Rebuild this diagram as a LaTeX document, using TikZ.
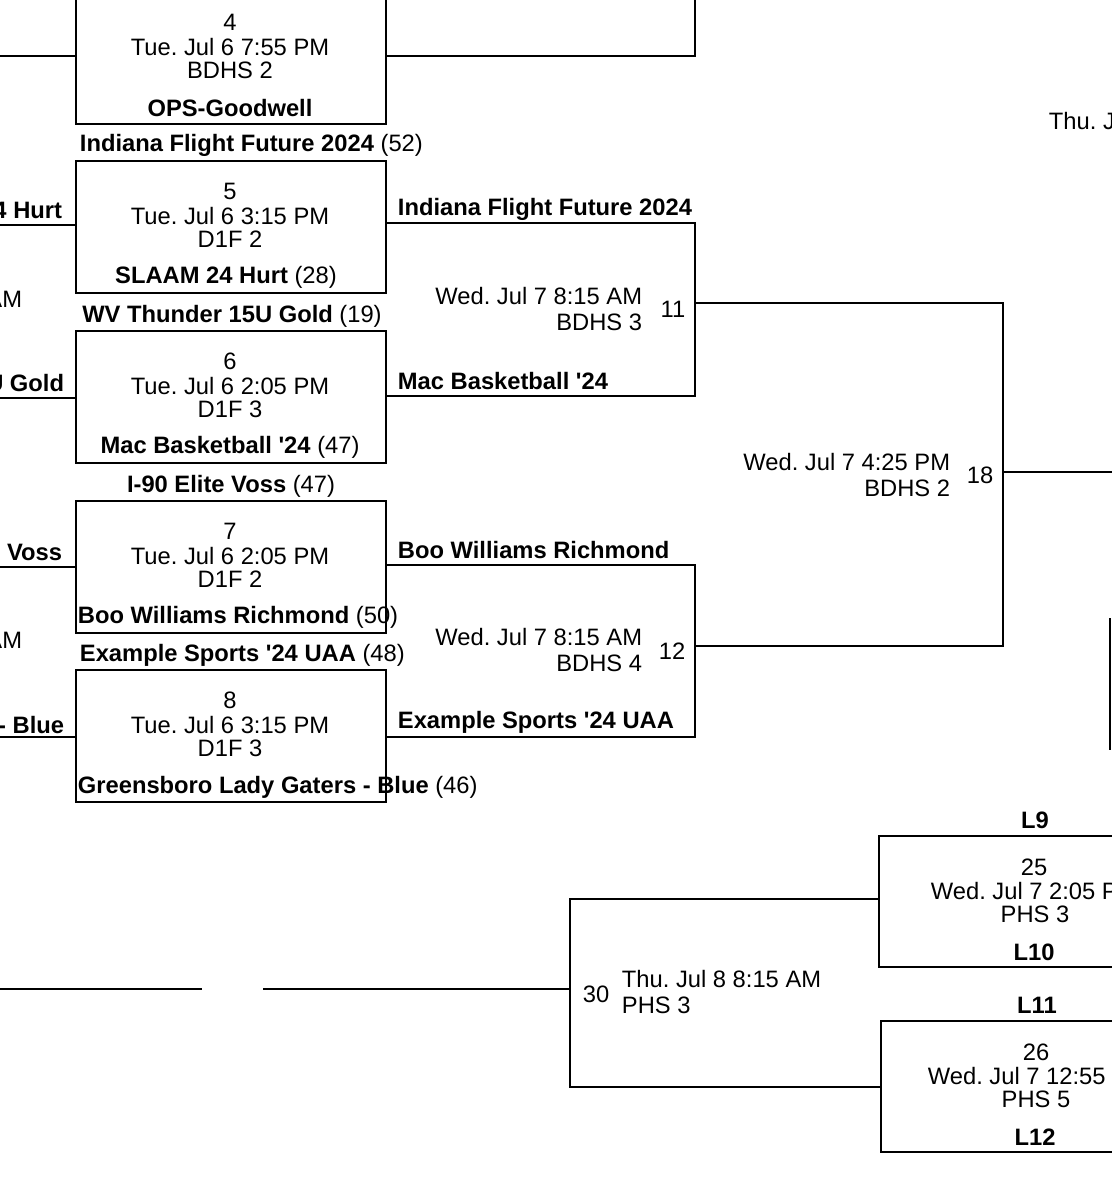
\documentclass[tikz,border=0pt]{standalone}
\usepackage{fontspec}
\setmainfont{Liberation Sans}
\newfontfamily\apfont{Liberation Sans}
\newcommand\ap{{\apfont\char39\relax}}
\frenchspacing
\begin{document}
\begin{tikzpicture}[x=0.75pt,y=-0.75pt,line width=1.4pt,
  t/.style={inner sep=0pt,font=\fontsize{17.8}{20}\selectfont},
  b/.style={t,font=\fontsize{17.8}{20}\selectfont\bfseries},
  game/.style={draw,line width=1.4pt}]
\useasboundingbox (0,0) rectangle (1112,1200);
\clip (0,0) rectangle (1112,1200);
\fill[white] (0,0) rectangle (1112,1200);
% game boxes
\foreach \n/\top/\num/\tm/\ct in {g4/-9/4/Tue. Jul 6 7:55 PM/BDHS 2, g5/160/5/Tue. Jul 6 3:15 PM/D1F 2, g6/330/6/Tue. Jul 6 2:05 PM/D1F 3, g7/500/7/Tue. Jul 6 2:05 PM/D1F 2, g8/669/8/Tue. Jul 6 3:15 PM/D1F 3}{
  \node[game,minimum width=310*0.75pt,minimum height=132*0.75pt,inner sep=0pt,anchor=north west] (\n) at (75,\top) {};
  \node[t] (\n num) at (230,\top+31) {\num};
  \node[t] (\n tm) at (230,\top+56) {\tm};
  \node[t] (\n ct) at (230,\top+79) {\ct};
}
\node[b] (g4b) at (230,108) {OPS-Goodwell};
\node[b,anchor=west] (g5a) at (79,145) {Indiana Flight Future 2024 \normalfont(52)};
\node[b] (g5b) at (226,277) {SLAAM 24 Hurt \normalfont(28)};
\node[b] (g6a) at (232,316) {WV Thunder 15U Gold \normalfont(19)};
\node[b] (g6b) at (230,447) {Mac Basketball \ap24 \normalfont(47)};
\node[b] (g7a) at (231,486) {I-90 Elite Voss \normalfont(47)};
\node[b,anchor=west] (g7b) at (77,617) {Boo Williams Richmond \normalfont(50)};
\node[b,anchor=west] (g8a) at (79,655) {Example Sports \ap24 UAA \normalfont(48)};
\node[b,anchor=west] (g8b) at (77,787) {Greensboro Lady Gaters - Blue \normalfont(46)};
% left stubs
\coordinate (L4) at (0,56); \coordinate (L5) at (0,225); \coordinate (L6) at (0,398);
\coordinate (L7) at (0,567); \coordinate (L8) at (0,737);
\draw (L4) -- (L4 -| g4.west); \draw (L5) -- (L5 -| g5.west); \draw (L6) -- (L6 -| g6.west);
\draw (L7) -- (L7 -| g7.west); \draw (L8) -- (L8 -| g8.west);
\node[b,anchor=east] (s5) at (63,210) {4 Hurt};
\node[b,anchor=east] (s6) at (65,383) {U Gold};
\node[b,anchor=east] (s7) at (63,552) {e Voss};
\node[b,anchor=east] (s8) at (65,725) {- Blue};
\node[t,anchor=east] (am1) at (23,299) {AM};
\node[t,anchor=east] (am2) at (23,640) {AM};
% round 2
\coordinate (c4) at (695,56); \coordinate (c4t) at (695,0);
\draw (g4.east |- c4) -- (c4) -- (c4t);
\coordinate (a5) at (695,223); \coordinate (a6) at (695,396);
\draw (g5.east |- a5) -- (a5) -- (a6) -- (g6.east |- a6);
\coordinate (a7) at (695,565); \coordinate (a8) at (695,737);
\draw (g7.east |- a7) -- (a7) -- (a8) -- (g8.east |- a8);
\node[b,anchor=west] (w5) at (397,209) {Indiana Flight Future 2024};
\node[b,anchor=west] (w6) at (397,381) {Mac Basketball \ap24};
\node[b,anchor=west] (w7) at (397,550) {Boo Williams Richmond};
\node[b,anchor=west] (w8) at (397,722) {Example Sports \ap24 UAA};
\node[t,anchor=east,align=right] (i11) at (643,309) {Wed. Jul 7 8:15 AM\\BDHS 3};
\node[t] (n11) at (673,309) {11};
\node[t,anchor=east,align=right] (i12) at (643,650) {Wed. Jul 7 8:15 AM\\BDHS 4};
\node[t] (n12) at (672,651) {12};
% round 3
\coordinate (m11) at (695,303); \coordinate (m12) at (695,646);
\coordinate (b11) at (1003,303); \coordinate (b12) at (1003,646);
\draw (m11) -- (b11) -- (b12) -- (m12);
\coordinate (m18) at (1003,472); \coordinate (o18) at (1112,472);
\draw (m18) -- (o18);
\node[t,anchor=east,align=right] (i18) at (951,475) {Wed. Jul 7 4:25 PM\\BDHS 2};
\node[t] (n18) at (980,475) {18};
\node[t,anchor=west] (thu) at (1048,121) {Thu. Jul 8 8:15 AM};
\coordinate (r1) at (1110,618); \coordinate (r2) at (1110,750);
\draw (r1) -- (r2);
% consolation
\coordinate (z1) at (0,989); \coordinate (z2) at (202,989);
\draw (z1) -- (z2);
\coordinate (z3) at (263,989); \coordinate (z4) at (570,989);
\draw (z3) -- (z4);
\node[game,minimum width=300*0.75pt,minimum height=131*0.75pt,inner sep=0pt,anchor=north west] (g25) at (878,835) {};
\node[game,minimum width=300*0.75pt,minimum height=131*0.75pt,inner sep=0pt,anchor=north west] (g26) at (880,1020) {};
\coordinate (k25) at (570,899); \coordinate (k26) at (570,1087);
\draw (g25.west |- k25) -- (k25) -- (k26) -- (g26.west |- k26);
\node[t] (n30) at (596,994) {30};
\node[t,anchor=west,align=left] (i30) at (621,992) {Thu. Jul 8 8:15 AM\\PHS 3};
\node[b] (l9) at (1035,820) {L9};
\node[t] (n25) at (1034,867) {25};
\node[t,anchor=west] (t25) at (930,891) {Wed. Jul 7 2:05 PM};
\node[t] (c25) at (1035,914) {PHS 3};
\node[b] (l10) at (1034,952) {L10};
\node[b] (l11) at (1037,1005) {L11};
\node[t] (n26) at (1036,1052) {26};
\node[t,anchor=west] (t26) at (927,1076) {Wed. Jul 7 12:55 PM};
\node[t] (c26) at (1036,1099) {PHS 5};
\node[b] (l12) at (1035,1137) {L12};
\end{tikzpicture}
\end{document}
